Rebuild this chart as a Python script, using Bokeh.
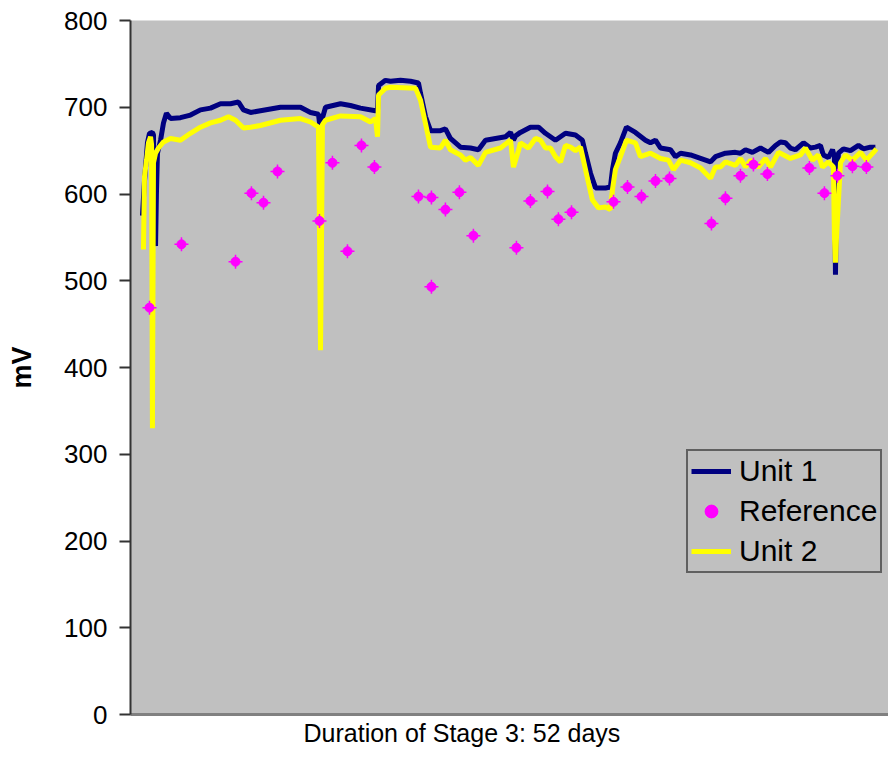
from bokeh.plotting import figure
from bokeh.models import Range1d, Legend, LegendItem, Title, FixedTicker
from bokeh.embed import file_html
from bokeh.resources import INLINE

# ---- data (days, mV) ----
unit1_days = [0.81, 0.95, 1.15, 1.29, 1.49, 1.56, 1.63, 1.70, 1.76, 1.83, 2.04, 2.24, 2.44, 2.72,
              3.39, 4.07, 4.75, 5.43, 6.11, 6.79, 7.33, 7.67, 8.15, 8.82, 10.18, 11.54, 12.22,
              12.76, 12.90, 12.97, 13.24, 14.26, 14.93, 15.61, 16.63, 16.77, 16.84, 17.31, 17.65,
              18.33, 19.01, 19.55, 19.69, 20.03, 20.37, 21.04, 21.38, 21.72, 22.40, 23.08, 23.62,
              24.10, 24.78, 25.46, 25.80, 26.00, 26.14, 26.47, 27.15, 27.70, 28.17, 28.85, 29.53,
              30.21, 30.68, 30.89, 31.23, 31.57, 32.25, 32.58, 32.72, 32.92, 33.26, 33.67, 34.28,
              34.96, 35.30, 35.64, 35.98, 36.66, 37.00, 37.34, 38.02, 38.70, 39.38, 39.71, 40.39,
              41.07, 41.41, 41.75, 42.22, 42.77, 43.31, 43.79, 44.12, 44.46, 44.80, 45.14, 45.69,
              46.16, 46.50, 46.84, 47.04, 47.38, 47.66, 47.79, 47.86, 47.93, 48.06, 48.40, 48.88,
              49.42, 49.76, 50.23, 50.57]
unit1_mv = [575, 615, 659, 670, 671, 668, 560, 540, 600, 647, 662, 682, 693, 687,
            688, 691, 697, 699, 704, 704, 706, 697, 694, 696, 700, 700, 694,
            692, 673, 684, 700, 704, 702, 699, 696, 696, 725, 731, 730,
            731, 730, 728, 716, 689, 673, 673, 675, 664, 654, 653, 651,
            662, 664, 666, 671, 662, 667, 671, 677, 677, 670, 662, 670,
            668, 662, 647, 624, 607, 607, 608, 628, 647, 659, 677, 671,
            662, 659, 662, 653, 651, 643, 647, 645, 641, 637, 643, 647,
            648, 647, 651, 648, 653, 648, 656, 660, 659, 653, 651, 659,
            653, 654, 656, 645, 642, 651, 643, 507, 600, 647, 652, 650,
            656, 652, 654, 654]

unit2_days = [0.88, 0.95, 1.09, 1.22, 1.36, 1.43, 1.49, 1.56, 1.70, 1.90, 2.24, 2.72, 3.39, 4.07,
              4.75, 5.43, 6.11, 6.65, 7.13, 7.67, 8.15, 8.82, 10.18, 11.54, 12.22, 12.76, 12.83,
              12.90, 12.97, 13.03, 13.24, 14.26, 15.61, 16.29, 16.63, 16.77, 16.84, 17.31, 17.65,
              19.35, 19.69, 20.03, 20.37, 21.04, 21.38, 21.72, 22.40, 22.74, 23.08, 23.62, 24.10,
              25.12, 25.80, 26.00, 26.34, 26.47, 27.02, 27.49, 27.83, 28.17, 28.51, 28.85, 29.19,
              29.53, 29.87, 30.21, 30.55, 30.75, 31.09, 31.36, 31.77, 32.25, 32.58, 32.72, 32.92,
              33.26, 33.67, 34.28, 34.62, 35.30, 35.98, 36.52, 36.86, 37.34, 38.02, 38.70, 39.38,
              39.71, 40.05, 40.39, 41.07, 41.41, 41.75, 42.09, 42.63, 43.11, 43.45, 43.99, 44.12,
              44.80, 45.48, 45.82, 46.30, 46.70, 46.98, 47.38, 47.72, 47.79, 47.86, 47.93, 48.20,
              48.54, 49.01, 49.56, 49.96, 50.44, 50.64]
unit2_mv = [536, 620, 639, 659, 666, 657, 330, 636, 647, 653, 660, 664, 662, 670,
            677, 682, 685, 689, 685, 676, 677, 679, 685, 687, 683, 677, 560,
            420, 550, 680, 685, 690, 689, 683, 687, 666, 714, 722, 723,
            722, 708, 681, 654, 653, 662, 651, 645, 639, 642, 633, 648,
            653, 662, 631, 650, 659, 653, 664, 662, 653, 653, 643, 637,
            656, 654, 650, 654, 639, 613, 593, 584, 585, 582, 605, 628,
            643, 662, 659, 643, 647, 641, 639, 628, 639, 636, 630, 618,
            631, 631, 637, 633, 641, 631, 639, 631, 641, 631, 648, 647,
            641, 645, 653, 639, 645, 631, 637, 631, 550, 521, 550, 636,
            645, 639, 648, 639, 648, 652]

ref_days = [1.29, 3.46, 7.13, 8.21, 9.03, 9.98, 12.83, 13.71, 14.73, 15.68, 16.56, 19.55, 20.43,
            21.38, 22.33, 20.43, 23.28, 26.20, 27.15, 28.31, 29.05, 29.94, 32.79, 33.74, 34.69,
            35.64, 36.59, 39.44, 40.39, 41.41, 42.29, 43.24, 46.09, 47.11, 47.99, 49.01, 49.96]
ref_mv = [469, 542, 522, 601, 590, 626, 569, 636, 534, 656, 631, 597, 596,
          582, 602, 493, 552, 538, 592, 603, 571, 579, 591, 608, 597,
          615, 618, 566, 595, 621, 634, 623, 630, 601, 621, 632, 631]

y_ticks = [0, 100, 200, 300, 400, 500, 600, 700, 800]
x_title = "Duration of Stage 3: 52 days"
y_title = "mV"

FONT = "Liberation Sans"

p = figure(width=888, height=751, output_backend="svg", toolbar_location=None,
           x_range=Range1d(0, 51.46), y_range=Range1d(0, 800),
           min_border_left=130, min_border_right=0, min_border_top=20, min_border_bottom=37)
p.background_fill_color = "#C0C0C0"
p.border_fill_color = "white"
p.outline_line_color = None
p.grid.visible = False

# y axis
p.yaxis.ticker = FixedTicker(ticks=y_ticks)
p.yaxis.major_label_text_font = FONT
p.yaxis.major_label_text_font_size = "26px"
p.yaxis.major_label_text_color = "black"
p.yaxis.major_tick_in = 0
p.yaxis.major_tick_out = 11
p.yaxis.major_tick_line_color = "#333333"
p.yaxis.major_tick_line_width = 2
p.yaxis.minor_tick_line_color = None
p.yaxis.axis_line_color = "#333333"
p.yaxis.axis_line_width = 2
p.yaxis.major_label_standoff = 12
p.yaxis.axis_label = y_title
p.yaxis.axis_label_text_font = FONT
p.yaxis.axis_label_text_font_size = "27px"
p.yaxis.axis_label_text_font_style = "bold"
p.yaxis.axis_label_text_color = "black"
p.yaxis.axis_label_standoff = 24

# x axis: line only
p.xaxis.ticker = FixedTicker(ticks=[])
p.xaxis.major_label_text_font_size = "0px"
p.xaxis.major_tick_line_color = None
p.xaxis.minor_tick_line_color = None
p.xaxis.axis_line_color = "#808080"
p.xaxis.axis_line_width = 3

p.add_layout(Title(text=x_title, align="left", offset=173, text_font=FONT,
                   text_font_size="25px", text_font_style="normal",
                   text_color="black", standoff=4), "below")

r1 = p.line(unit1_days, unit1_mv, line_color="#000080", line_width=5)
r2 = p.line(unit2_days, unit2_mv, line_color="#FFFF00", line_width=5)
r3 = p.scatter(ref_days, ref_mv, marker="circle", size=9, color="#FF00FF")
r4 = p.scatter(ref_days, ref_mv, marker="cross", size=14, line_color="#FF00FF", line_width=1.5)

legend = Legend(items=[LegendItem(label="Unit 1", renderers=[r1]),
                       LegendItem(label="Reference", renderers=[r3, r4]),
                       LegendItem(label="Unit 2", renderers=[r2])],
                location=(556, 141))
legend.background_fill_color = "#C0C0C0"
legend.background_fill_alpha = 1
legend.border_line_color = "black"
legend.border_line_width = 2
legend.label_text_font = FONT
legend.label_text_font_size = "30px"
legend.label_text_color = "black"
legend.glyph_width = 40
legend.glyph_height = 32
legend.label_height = 32
legend.label_standoff = 8
legend.spacing = 6
legend.padding = 3
legend.margin = 0
p.add_layout(legend)

open("out.html", "w").write(file_html(p, INLINE))
